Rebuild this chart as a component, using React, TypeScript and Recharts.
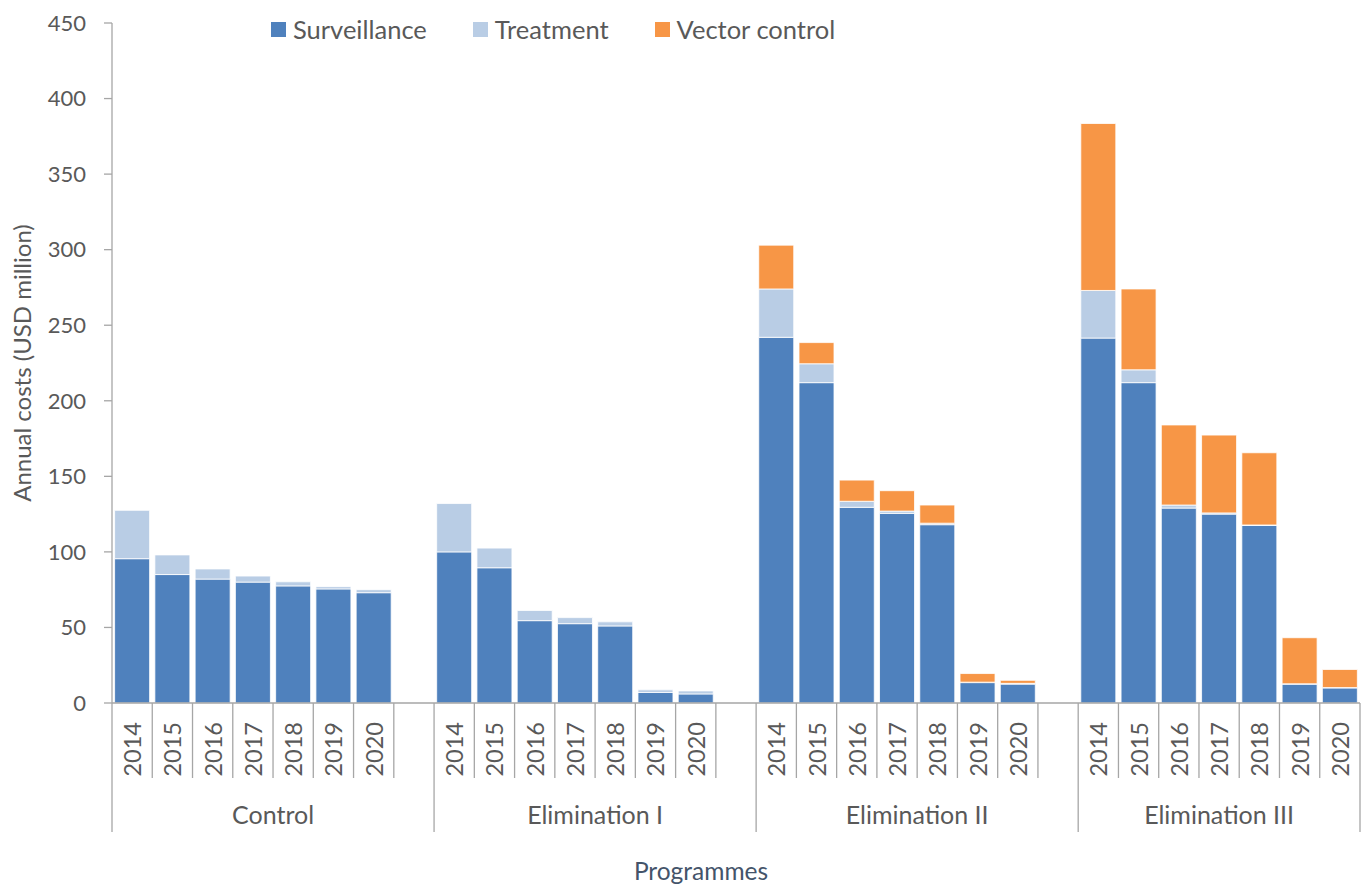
import { BarChart, Bar, XAxis, YAxis, Legend } from 'recharts';

const years = ['2014', '2015', '2016', '2017', '2018', '2019', '2020'];
const programmes = ['Control', 'Elimination I', 'Elimination II', 'Elimination III'];

// values per programme, one entry per year (USD million)
const surveillance = [
  [95.5, 85, 82, 80, 77.5, 75.5, 73],
  [100, 89.5, 54.5, 52.5, 51, 7, 6],
  [242, 212, 129.5, 125.5, 118, 13.5, 12.5],
  [241.5, 212, 129, 125, 117.5, 12.5, 10],
];
const treatment = [
  [32, 13, 6.7, 4, 2.7, 1.5, 2],
  [32, 13, 6.7, 4, 2.7, 1.7, 2],
  [32, 12.5, 4, 1.5, 1, 0.3, 0.5],
  [31.5, 8.5, 2, 0.8, 0.3, 0.2, 0.2],
];
const vectorControl = [
  [0, 0, 0, 0, 0, 0, 0],
  [0, 0, 0, 0, 0, 0, 0],
  [29, 14, 14, 13.5, 12, 5.7, 2],
  [110.5, 53.5, 53, 51.5, 47.8, 30.5, 12],
];
const yTicks = [0, 50, 100, 150, 200, 250, 300, 350, 400, 450];

const TEXT = '#595959';
const TITLE = '#44546a';
const AXIS = '#a6a6a6';
const FONT = 'Lato, "Open Sans", sans-serif';

type Row = {
  key: string;
  year: string;
  programme: string;
  groupStart: boolean;
  groupSlots: number;
  surveillance?: number;
  treatment?: number;
  vector?: number;
};

// one slot per year, plus an empty slot between programmes
const rows: Row[] = [];
programmes.forEach((p, gi) => {
  const last = gi === programmes.length - 1;
  years.forEach((y, yi) => {
    rows.push({
      key: `${p}-${y}`,
      year: y,
      programme: p,
      groupStart: yi === 0,
      groupSlots: last ? years.length : years.length + 1,
      surveillance: surveillance[gi][yi],
      treatment: treatment[gi][yi],
      vector: vectorControl[gi][yi],
    });
  });
  if (!last) {
    rows.push({ key: `${p}-gap`, year: '', programme: p, groupStart: false, groupSlots: 0 });
  }
});

const W = 1364;
const H = 886;
const M = { top: 23, right: 4, left: 0, bottom: 0 };
const Y_W = 112;
const X_H = 183;
const SLOT = (W - M.left - M.right - Y_W) / rows.length;

function XTick(props: any) {
  const { x, y, payload } = props;
  const row = rows[payload.index];
  const left = x - SLOT / 2;
  const isLast = payload.index === rows.length - 1;
  return (
    <g>
      <line x1={left} y1={y} x2={left} y2={y + (row.groupStart ? 129 : 75)} stroke={AXIS} strokeWidth={1.3} />
      {isLast && (
        <line x1={left + SLOT} y1={y} x2={left + SLOT} y2={y + 129} stroke={AXIS} strokeWidth={1.3} />
      )}
      {row.year && (
        <text
          x={x}
          y={y + 19}
          transform={`rotate(-90 ${x} ${y + 19})`}
          textAnchor="end"
          dominantBaseline="central"
          fontSize={23.5}
          fill={TEXT}
          fontFamily={FONT}
        >
          {row.year}
        </text>
      )}
      {row.groupStart && (
        <text
          x={left + (row.groupSlots * SLOT) / 2}
          y={y + 111}
          textAnchor="middle"
          dominantBaseline="central"
          fontSize={25}
          fill={TEXT}
          fontFamily={FONT}
        >
          {row.programme}
        </text>
      )}
    </g>
  );
}

const legendItems = [
  { label: 'Surveillance', color: '#4f81bd' },
  { label: 'Treatment', color: '#b9cde5' },
  { label: 'Vector control', color: '#f79646' },
];

function LegendContent() {
  return (
    <div style={{ display: 'flex', alignItems: 'center', fontFamily: FONT, fontSize: 25.5, color: TEXT, lineHeight: '30px' }}>
      {legendItems.map((it) => (
        <div key={it.label} style={{ display: 'flex', alignItems: 'center', marginRight: 46 }}>
          <span style={{ width: 15, height: 15, background: it.color, display: 'inline-block', marginRight: 7 }} />
          <span>{it.label}</span>
        </div>
      ))}
    </div>
  );
}

export default function App() {
  return (
    <div style={{ position: 'absolute', left: 0, top: 0, width: W, height: H, background: '#fff' }}>
      <BarChart width={W} height={H} data={rows} margin={M} barCategoryGap="6.5%">
        <Legend
          layout="horizontal"
          verticalAlign="middle"
          align="center"
          content={<LegendContent />}
          wrapperStyle={{ top: 14, left: 271, width: 700 }}
        />
        <YAxis
          width={Y_W}
          domain={[0, 450]}
          ticks={yTicks}
          interval={0}
          stroke={AXIS}
          tickSize={8}
          tickMargin={18}
          tick={{ fill: TEXT, fontSize: 22, fontFamily: FONT }}
          axisLine={{ stroke: AXIS, strokeWidth: 1.3 }}
          tickLine={{ stroke: AXIS, strokeWidth: 1.3 }}
          label={{
            value: 'Annual costs (USD million)',
            angle: -90,
            position: 'insideLeft',
            offset: 22,
            textAnchor: 'middle',
            fill: TEXT,
            fontSize: 24,
            fontFamily: FONT,
          }}
        />
        <XAxis
          dataKey="key"
          height={X_H}
          interval={0}
          tickSize={0}
          tickMargin={0}
          tickLine={false}
          axisLine={{ stroke: AXIS, strokeWidth: 1.3 }}
          tick={<XTick />}
          label={{
            value: 'Programmes',
            position: 'insideBottom',
            offset: 6,
            dx: -35,
            fill: TITLE,
            fontSize: 24.5,
            fontFamily: FONT,
          }}
        />
        <Bar dataKey="surveillance" stackId="a" fill="#4f81bd" stroke="#fff" strokeWidth={0.8} isAnimationActive={false} />
        <Bar dataKey="treatment" stackId="a" fill="#b9cde5" stroke="#fff" strokeWidth={0.8} isAnimationActive={false} />
        <Bar dataKey="vector" stackId="a" fill="#f79646" stroke="#fff" strokeWidth={0.8} isAnimationActive={false} />
      </BarChart>
    </div>
  );
}
